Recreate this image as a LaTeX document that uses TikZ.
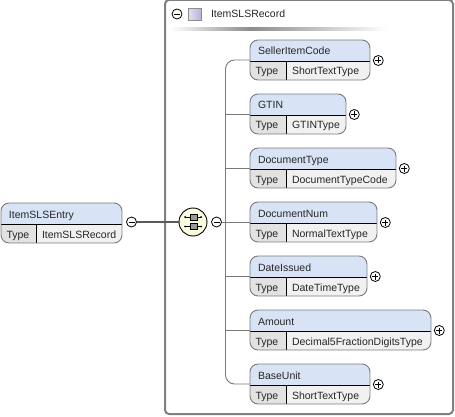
\documentclass[tikz,border=0pt]{standalone}
\usepackage{fontspec}
\setmainfont{Liberation Sans}
\definecolor{headfill}{HTML}{D8E4F6}
\definecolor{typefill}{HTML}{F1F1F1}
\definecolor{typedark}{HTML}{E2E2E2}
\definecolor{edgegray}{HTML}{7A7A7A}
\definecolor{frameg}{HTML}{808080}
\definecolor{seqfill}{HTML}{FBFBDF}
\definecolor{cplxa}{HTML}{E4DFF2}
\definecolor{cplxb}{HTML}{BDB0DC}
\newcommand{\elembox}[7]{% name, x1, x2, y1, title, type, typedivider x
  \node[elem, minimum width=#3pt-#2pt, minimum height=40pt] (#1) at ({(#2+#3)/2},#4+20) {};
  \begin{scope}
    \clip[rounded corners=8pt] (#2,#4) rectangle (#3,#4+40);
    \fill[headfill] (#2,#4) rectangle (#3,#4+21);
    \fill[typefill] (#2,#4+21) rectangle (#3,#4+40);
    \fill[typedark] (#2,#4+21) rectangle (#7,#4+40);
    \draw[black, line width=.8pt] (#2,#4+21) -- (#3,#4+21);
    \draw[black, line width=.8pt] (#7,#4+21) -- (#7,#4+40);
  \end{scope}
  \draw[edgegray, line width=.9pt, rounded corners=8pt] (#2,#4) rectangle (#3,#4+40);
  \node[lbl, anchor=base west] (#1t) at (#2+8,#4+15) {#5};
  \node[lbl, anchor=base west] (#1k) at (#2+5.5,#4+35) {Type};
  \node[lbl, anchor=base west] (#1v) at (#7+6,#4+35) {#6};
}
\tikzset{
  elem/.style={rectangle, draw=none, inner sep=0pt, outer sep=0pt},
  lbl/.style={inner sep=0pt, outer sep=0pt, font=\fontsize{10.5}{12}\selectfont, text=black!85},
  tog/.style={circle, draw=black, fill=white, line width=.8pt, minimum size=10pt, inner sep=0pt, outer sep=0pt},
  conn/.style={draw=edgegray, line width=.9pt},
  thick conn/.style={draw=black!65, line width=1.6pt},
}
\begin{document}
\begin{tikzpicture}[x=1pt,y=-1pt]
\useasboundingbox (0,0) rectangle (455,417);
\fill[white] (0,0) rectangle (455,417);
% frame
\draw[frameg, line width=2pt, rounded corners=4pt] (165,0) rectangle (453,414);
% header
\node[tog] (grp) at (177,14) {};
\draw[line width=.8pt] (174,14) -- (180,14);
\node[inner sep=0pt, minimum size=12.5pt, draw=black!45, left color=cplxa, right color=cplxb, line width=.5pt] (cplx) at (194.5,14.5) {};
\node[lbl, anchor=base west] (recname) at (211,18) {ItemSLSRecord};
\fill[left color=white, right color=black!45] (170,28) rectangle (250,31);
\fill[left color=black!45, right color=white] (250,28) rectangle (388,31);
% entry
\elembox{entry}{1}{122}{203}{ItemSLSEntry}{ItemSLSRecord}{36}
% children
\elembox{seller}{250}{370}{40}{SellerItemCode}{ShortTextType}{286}
\elembox{gtin}{250}{346}{94}{GTIN}{GTINType}{286}
\elembox{doctype}{250}{396}{148}{DocumentType}{DocumentTypeCode}{286}
\elembox{docnum}{250}{377}{202}{DocumentNum}{NormalTextType}{286}
\elembox{date}{250}{367}{256}{DateIssued}{DateTimeType}{286}
\elembox{amount}{250}{431}{310}{Amount}{Decimal5FractionDigitsType}{286}
\elembox{base}{250}{370}{364}{BaseUnit}{ShortTextType}{286}
% toggles
\node[tog] (tentry) at (131.5,222) {};
\draw[line width=.8pt] (128.5,222) -- (134.5,222);
\node[tog] (tseq) at (216.5,222) {};
\draw[line width=.8pt] (213.5,222) -- (219.5,222);
\coordinate (trunk) at (225.5,222);
\coordinate (ttop) at (225.5,60);
\coordinate (tbot) at (225.5,384);
\draw[conn, rounded corners=9pt] (seller.west) -- (ttop) -- (tbot) -- (base.west);
\foreach \n in {gtin,doctype,docnum,date,amount}{
  \draw[conn] (trunk |- \n.west) -- (\n.west);
}
\draw[conn] (tseq) -- (trunk);
% sequence
\node[circle, draw=black, fill=seqfill, line width=.9pt, minimum size=28pt, inner sep=0pt, outer sep=0pt] (seq) at (193,222) {};
\draw[thick conn] (tentry) -- (seq);
% icon
\foreach \yy in {217,226.5}{
  \draw[line width=.8pt] (185,\yy) -- (201,\yy);
  \fill (185,\yy) circle (1pt) (201,\yy) circle (1pt);
  \fill[black!40] (190,\yy-3) rectangle (197,\yy+3);
  \draw[black, line width=.4pt] (190,\yy-3) rectangle (197,\yy+3);
}
% expand toggles
\foreach \n in {seller,gtin,doctype,docnum,date,amount,base}{
  \node[tog, anchor=west, xshift=3.3pt, yshift=-.5pt] (p\n) at (\n.east) {};
  \draw[line width=.8pt] ([xshift=-3pt]p\n.center) -- ([xshift=3pt]p\n.center);
  \draw[line width=.8pt] ([yshift=-3pt]p\n.center) -- ([yshift=3pt]p\n.center);
}
\end{tikzpicture}
\end{document}
